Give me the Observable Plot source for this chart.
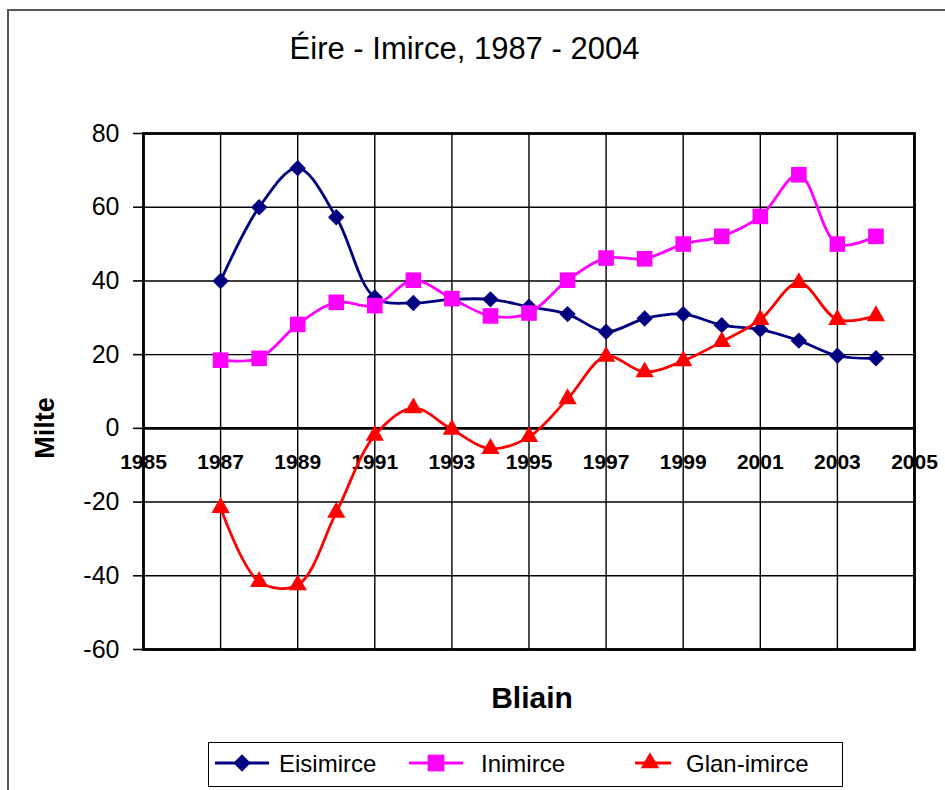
<!DOCTYPE html>
<html><head><meta charset="utf-8">
<script src="https://cdn.jsdelivr.net/npm/d3@7"></script>
<script src="https://cdn.jsdelivr.net/npm/@observablehq/plot@0.6"></script>
<style>
body{margin:0;background:#fff;overflow:hidden;}
#wrap{position:relative;width:945px;height:790px;overflow:hidden;font-family:"Liberation Sans",Arial,sans-serif;color:#000;}
#frame{position:absolute;left:7px;top:9px;width:1000px;height:900px;border-top:2px solid #555;border-left:2px solid #555;box-sizing:border-box;}
#chart{position:absolute;left:0;top:0;}
#title{position:absolute;left:0;width:929px;top:31px;text-align:center;font-size:31px;line-height:36px;}
#ylab{position:absolute;left:45px;top:428px;transform:translate(-50%,-50%) rotate(-90deg);font-size:27px;font-weight:bold;white-space:nowrap;}
#xlab{position:absolute;left:532px;top:698px;transform:translate(-50%,-50%);font-size:30px;font-weight:bold;}
#legend{position:absolute;left:208px;top:742px;width:635px;height:45px;border:1.6px solid #000;box-sizing:border-box;}
.item{position:absolute;top:0;height:42px;display:flex;align-items:center;font-size:24px;white-space:nowrap;}
</style></head>
<body>
<div id="wrap">
  <div id="frame"></div>
  <div id="chart"></div>
  <div id="title">Éire - Imirce, 1987 - 2004</div>
  <div id="ylab">Milte</div>
  <div id="xlab">Bliain</div>
  <div id="legend"></div>
</div>
<script>
const years = [1987,1988,1989,1990,1991,1992,1993,1994,1995,1996,1997,1998,1999,2000,2001,2002,2003,2004];
const eisimirce = [40, 60, 70.6, 57.3, 35.5, 34, 35, 35, 33, 31, 26.2, 29.8, 31, 28, 26.8, 23.8, 19.7, 19];
const inimirce = [18.5, 19, 28.2, 34.2, 33.3, 40.2, 35.2, 30.5, 31.3, 40.2, 46.2, 46, 50, 52.1, 57.5, 68.8, 50, 52.1];
const glanImirce = [-21.5, -41.6, -42.5, -22.8, -1.9, 5.5, -0.3, -5.5, -2.3, 8, 19.5, 15.3, 18.3, 23.5, 29.5, 39.5, 29.5, 30.5];
const seriesNames = ["Eisimirce", "Inimirce", "Glan-imirce"];
const seriesColors = ["#000080", "#FF00FF", "#FF0000"];
const seriesSymbols = ["diamond2", "square", "triangle"];
const yTicks = [-60, -40, -20, 0, 20, 40, 60, 80];
const xTicks = [1985, 1987, 1989, 1991, 1993, 1995, 1997, 1999, 2001, 2003, 2005];

const seriesValues = [eisimirce, inimirce, glanImirce];
const data = [];
seriesNames.forEach((name, i) => years.forEach((yr, j) => data.push({series: name, year: yr, value: seriesValues[i][j]})));
const symbolR = {"Eisimirce": 7.4, "Inimirce": 8.8, "Glan-imirce": 6.8};

const chart = Plot.plot({
  width: 945, height: 790,
  marginLeft: 143, marginRight: 31, marginTop: 133, marginBottom: 141,
  style: {fontFamily: "'Liberation Sans', Arial, sans-serif", background: "transparent", color: "#000"},
  x: {domain: [1985, 2005], axis: null},
  y: {domain: [-60, 80], axis: null},
  color: {domain: seriesNames, range: seriesColors},
  symbol: {domain: seriesNames, range: seriesSymbols},
  marks: [
    Plot.gridY(yTicks, {stroke: "#000", strokeOpacity: 1, strokeWidth: 1.4}),
    Plot.gridX(xTicks, {stroke: "#000", strokeOpacity: 1, strokeWidth: 1.4}),
    Plot.axisY(yTicks, {tickSize: 10, tickPadding: 14, fontSize: 25, strokeWidth: 1.6, label: null, tickFormat: d => String(d)}),
    Plot.ruleY([0], {stroke: "#000", strokeWidth: 2.8}),
    Plot.frame({stroke: "#000", strokeWidth: 2.8}),
    Plot.text(xTicks, {x: d => d, y: 0, dy: 34, text: d => String(d), fontWeight: "bold", fontSize: 21}),
    Plot.line(data, {x: "year", y: "value", z: "series", stroke: "series", strokeWidth: 2.8, curve: "catmull-rom"}),
    ...seriesNames.map(name => Plot.dot(data.filter(d => d.series === name), {x: "year", y: "value", fill: "series", symbol: "series", r: symbolR[name], stroke: "none"}))
  ]
});
document.getElementById("chart").appendChild(chart);

// legend (positions relative to legend box)
const legend = document.getElementById("legend");
const legendLine = [[8, 62], [202, 256], [428, 464]];
const legendText = [70, 272, 477];
const symPath = {
  "diamond2": d3.symbol(d3.symbolDiamond2, 190)(),
  "square": d3.symbol(d3.symbolSquare, 280)(),
  "triangle": d3.symbol(d3.symbolTriangle, 150)()
};
const svgNS = "http://www.w3.org/2000/svg";
const lsvg = document.createElementNS(svgNS, "svg");
lsvg.setAttribute("width", 635); lsvg.setAttribute("height", 45);
lsvg.style.position = "absolute"; lsvg.style.left = "-1.6px"; lsvg.style.top = "-1.6px";
seriesNames.forEach((name, i) => {
  const [a, b] = legendLine[i];
  const cx = i === 2 ? a + 15 : (a + b) / 2;
  lsvg.insertAdjacentHTML("beforeend",
    `<line x1="${a}" x2="${b}" y1="22" y2="22" stroke="${seriesColors[i]}" stroke-width="3"/>` +
    `<path transform="translate(${cx},22)" d="${symPath[seriesSymbols[i]]}" fill="${seriesColors[i]}"/>`);
  const it = document.createElement("div");
  it.className = "item";
  it.style.left = legendText[i] + "px";
  it.textContent = name;
  legend.appendChild(it);
});
legend.appendChild(lsvg);
</script>
</body></html>
